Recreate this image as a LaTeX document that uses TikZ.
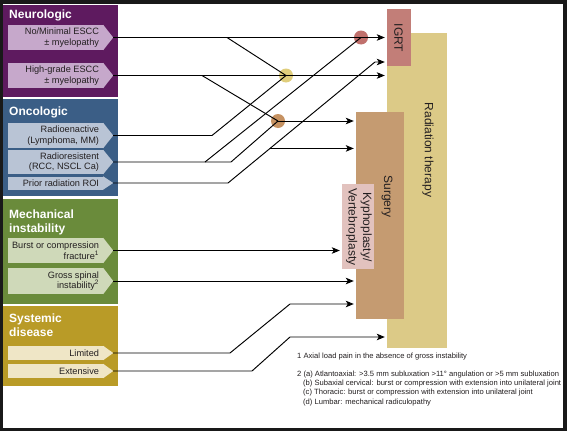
\documentclass[tikz,border=0pt]{standalone}
\usepackage{fontspec}
\setmainfont{Liberation Sans}
\usetikzlibrary{arrows.meta,calc}
\definecolor{neuroD}{HTML}{5E1A5F}
\definecolor{neuroL}{HTML}{C6A8CB}
\definecolor{oncoD}{HTML}{3B5E86}
\definecolor{oncoL}{HTML}{B9C4D5}
\definecolor{mechD}{HTML}{6A8B3B}
\definecolor{mechL}{HTML}{CFD9B9}
\definecolor{sysD}{HTML}{B99B27}
\definecolor{sysL}{HTML}{EFE6C6}
\definecolor{igrtC}{HTML}{C27E78}
\definecolor{radC}{HTML}{DCCA87}
\definecolor{surgC}{HTML}{C59B71}
\definecolor{kyphC}{HTML}{E2C2BE}
\definecolor{dotR}{HTML}{C0706C}
\definecolor{dotY}{HTML}{E0CE7C}
\definecolor{dotB}{HTML}{C69262}
\definecolor{txtC}{HTML}{231F20}
\newcommand{\chevbox}[5]{%
  \node[cbox, fill=#4, minimum height=#3] (#1) at (55.5,#2) {};
  \fill[#4] (#1.north east) -- ($(#1.east)+(10,0)$) -- (#1.south east) -- cycle;
  \coordinate (#1t) at ($(#1.east)+(10,0)$);
  \node[ctxt] (#1x) at ([xshift=-4pt]#1.east) {#5};
}
\begin{document}
\begin{tikzpicture}[x=1pt,y=-1pt,
  panel/.style={rectangle, inner sep=0, anchor=north west},
  cbox/.style={rectangle, inner sep=0pt, minimum width=95pt},
  ctxt/.style={anchor=east, inner sep=0pt, align=right, text=txtC, font=\fontsize{9.2}{10.7}\selectfont},
  ttl/.style={anchor=base west, inner sep=0, text=white, font=\fontsize{12}{14}\selectfont\bfseries, align=left},
  blk/.style={rectangle, inner sep=0},
  blab/.style={rotate=-90, inner sep=0, text=txtC, font=\fontsize{12}{14.5}\selectfont, align=center},
  dot/.style={circle, inner sep=0, minimum size=14pt},
  conn/.style={line width=0.95pt, black},
  arr/.style={-{Stealth[length=8pt,width=6.5pt,inset=2pt]}},
  fn/.style={anchor=base west, inner sep=0, text=txtC, font=\fontsize{7.6}{9}\selectfont}
]
% frame
\fill[black!90] (0,0) rectangle (567,431);
\fill[white] (3,4) rectangle (563,428);
% left panels
\node[panel, fill=neuroD, minimum width=115pt, minimum height=92pt] (pneuro) at (3,5) {};
\node[panel, fill=oncoD, minimum width=115pt, minimum height=97pt] (ponco) at (3,99) {};
\node[panel, fill=mechD, minimum width=115pt, minimum height=105pt] (pmech) at (3,199) {};
\node[panel, fill=sysD, minimum width=115pt, minimum height=80pt] (psys) at (3,306) {};
\node[ttl] (tneuro) at (9,18.5) {Neurologic};
\node[ttl] (tonco) at (9,115.5) {Oncologic};
\node[ttl] (tmech) at (9,218.5) {Mechanical};
\node[ttl] (tmech2) at (9,232.5) {instability};
\node[ttl] (tsys) at (9,322.5) {Systemic};
\node[ttl] (tsys2) at (9,336.5) {disease};
% chevron boxes
\chevbox{b1}{37.5}{25pt}{neuroL}{No/Minimal ESCC\\± myelopathy}
\chevbox{b2}{75.5}{25pt}{neuroL}{High-grade ESCC\\± myelopathy}
\chevbox{b3}{135.5}{25pt}{oncoL}{Radioenactive\\(Lymphoma, MM)}
\chevbox{b4}{162}{24pt}{oncoL}{Radioresistent\\(RCC, NSCL Ca)}
\chevbox{b5}{183}{13pt}{oncoL}{Prior radiation ROI}
\chevbox{b6}{250.5}{25pt}{mechL}{Burst or compression\\fracture\textsuperscript{1}}
\chevbox{b7}{281}{26pt}{mechL}{Gross spinal\\instability\textsuperscript{2}}
\chevbox{b8}{353}{14pt}{sysL}{Limited}
\chevbox{b9}{371}{14pt}{sysL}{Extensive}
% right blocks
\node[blk, fill=radC, minimum width=60pt, minimum height=315pt] (rad) at (417,190.5) {};
\node[blk, fill=igrtC, minimum width=24pt, minimum height=57pt] (igrt) at (399,37.5) {};
\node[blk, fill=surgC, minimum width=48pt, minimum height=207pt] (surg) at (380,215.5) {};
\node[blk, fill=kyphC, minimum width=32pt, minimum height=85pt] (kyph) at (358,226.5) {};
\node[blab] (lrad) at (428,150) {Radiation therapy};
\node[blab] (ligrt) at (398.5,38) {IGRT};
\node[blab] (lsurg) at (387,196.5) {Surgery};
\node[blab] (lkyph) at (359,227) {Kyphoplasty/\\Vertebroplasty};
% dots
\node[dot, fill=dotR] (cR) at (361,37.5) {};
\node[dot, fill=dotY] (cY) at (286,75.5) {};
\node[dot, fill=dotB] (cB) at (278,121) {};
% junction coordinates
\coordinate (j1) at (227,37.5);
\coordinate (j2) at (202,75.5);
\coordinate (k3) at (212,135.5);
\coordinate (j4) at (205,162);
\coordinate (k4) at (231,162);
\coordinate (k5) at (228,183);
\coordinate (m5) at (375,62);
\coordinate (j5) at ($(k5)!0.2857!(m5)$);
\coordinate (k8) at (230,353);
\coordinate (m8) at (290,304);
\coordinate (k9) at (252,371);
\coordinate (m9) at (290,337);
% connectors
\draw[conn,arr] (b1t) -- ([xshift=-2pt]igrt.west |- b1t);
\draw[conn] (j1) -- (cY.center);
\draw[conn,arr] (b2t) -- ([xshift=-2pt]rad.west |- b2t);
\draw[conn] (j2) -- (cB.center);
\draw[conn,arr] (cB.center) -- ([xshift=-2pt]surg.west |- cB.center);
\draw[conn] (b3t) -- (k3) -- (cY.center);
\draw[conn] (b4t) -- (k4) -- (cB.center);
\draw[conn] (j4) -- (cR.center);
\draw[conn,arr] (b5t) -- (k5) -- (m5) -- ([xshift=-2pt]rad.west |- m5);
\draw[conn,arr] (j5) -- ([xshift=-2pt]surg.west |- j5);
\draw[conn,arr] (b6t) -- ([xshift=-2pt]kyph.west |- b6t);
\draw[conn,arr] (b7t) -- ([xshift=-2pt]surg.west |- b7t);
\draw[conn,arr] (b8t) -- (k8) -- (m8) -- ([xshift=-2pt]surg.west |- m8);
\draw[conn,arr] (b9t) -- (k9) -- (m9) -- ([xshift=-2pt]rad.west |- m9);
% footnotes
\node[fn] (f1) at (297,358.5) {1 Axial load pain in the absence of gross instability};
\node[fn] (f2) at (297,376.5) {2 (a) Atlantoaxial: >3.5 mm subluxation >11° angulation or >5 mm subluxation};
\node[fn] (f3) at (303,385.5) {(b) Subaxial cervical: burst or compression with extension into unilateral joint};
\node[fn] (f4) at (303,394.5) {(c) Thoracic: burst or compression with extension into unilateral joint};
\node[fn] (f5) at (303,404) {(d) Lumbar: mechanical radiculopathy};
\end{tikzpicture}
\end{document}
